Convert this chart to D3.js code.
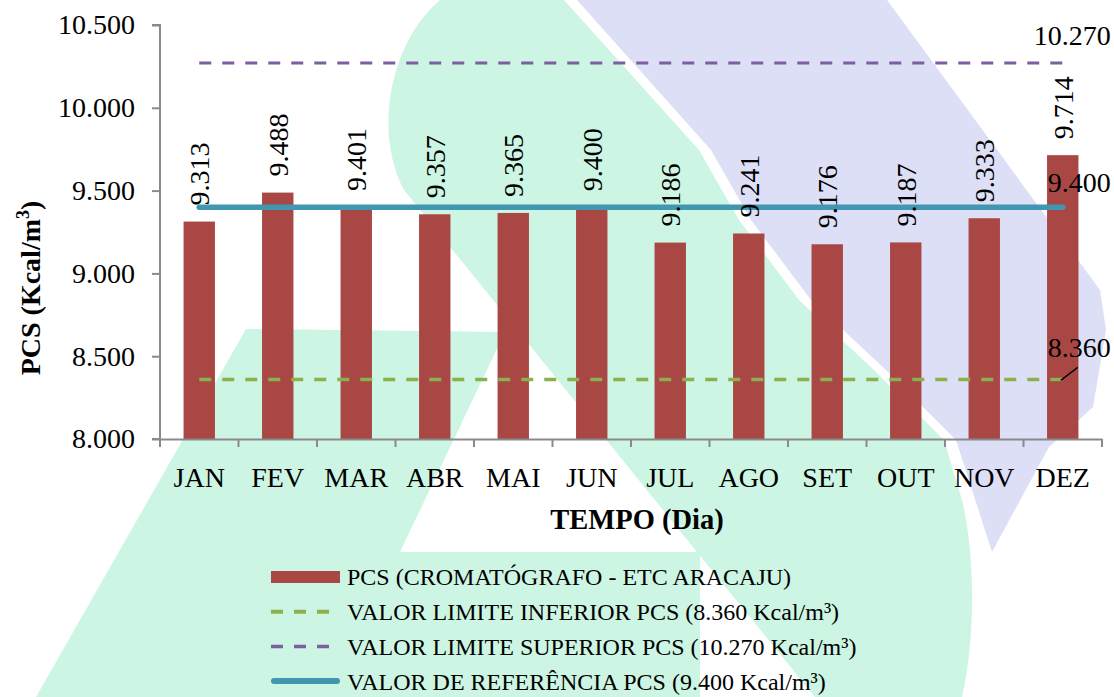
<!DOCTYPE html>
<html>
<head>
<meta charset="utf-8">
<script src="https://cdn.jsdelivr.net/npm/d3@7"></script>
<style>
body { margin: 0; background: white; }
svg { display: block; }
</style>
</head>
<body>
<script>
const width = 1114
const height = 697
const margin = {top: 25, left: 160, bottom: 258, right: 12}

// data (Kcal/m3)
const months = ["JAN", "FEV", "MAR", "ABR", "MAI", "JUN", "JUL", "AGO", "SET", "OUT", "NOV", "DEZ"]
const pcs = [9313, 9488, 9401, 9357, 9365, 9400, 9186, 9241, 9176, 9187, 9333, 9714]
const limiteInferior = [8360, 8360, 8360, 8360, 8360, 8360, 8360, 8360, 8360, 8360, 8360, 8360]
const limiteSuperior = [10270, 10270, 10270, 10270, 10270, 10270, 10270, 10270, 10270, 10270, 10270, 10270]
const referencia = [9400, 9400, 9400, 9400, 9400, 9400, 9400, 9400, 9400, 9400, 9400, 9400]
const yTicks = [8000, 8500, 9000, 9500, 10000, 10500]
const legendLabels = [
    "PCS (CROMATÓGRAFO - ETC ARACAJU)",
    "VALOR LIMITE INFERIOR PCS (8.360 Kcal/m³)",
    "VALOR LIMITE SUPERIOR PCS (10.270 Kcal/m³)",
    "VALOR DE REFERÊNCIA PCS (9.400 Kcal/m³)",
]

const colors = {bar: "#A94744", inferior: "#8DB04F", superior: "#7C5FA0", referencia: "#4196B0", axis: "#8A8A8A"}
const serif = "'Liberation Serif', 'Times New Roman', serif"

const br = d3.formatLocale({decimal: ",", thousands: ".", grouping: [3], currency: ["R$", ""]})
const fmt = br.format(",.0f")

const svg = d3.select("body").append("svg")
    .attr("width", width)
    .attr("height", height)
    .style("font-family", serif)

svg.append("rect").attr("width", width).attr("height", height).attr("fill", "white")

// watermark shapes behind the chart
const bg = svg.append("g").attr("class", "watermark")
bg.append("path")
    .attr("fill", "#CDF5E3")
    .attr("d", "M246,329 L505,332 L400,552 L700,552 L700,697 L36,697 Z")
bg.append("path")
    .attr("fill", "#CDF5E3")
    .attr("d", `M440,0 C392,40 372,130 404,190 L697,552 L815,697 L962,697
        C975,640 976,560 962,500 L944,440 L874,370 L799,300 L739,220 L699,150 L564,0 Z`)
bg.append("path")
    .attr("fill", "#DCDFF5")
    .attr("d", `M577,0 L887,0 L1100,290 L1106,330 L1093,407 L1049,447 L992,552
        L956,440 L886,370 L811,300 L751,220 L711,150 Z`)

const x = d3.scaleBand()
    .domain(months)
    .range([margin.left, width - margin.right])
    .paddingInner(0.6)
    .paddingOuter(0.3)

const y = d3.scaleLinear()
    .domain([8000, 10500])
    .range([height - margin.bottom, margin.top])

const cx = m => x(m) + x.bandwidth() / 2

// bars
svg.append("g").selectAll("rect")
    .data(months)
    .join("rect")
    .attr("x", m => x(m))
    .attr("y", (m, i) => y(pcs[i]))
    .attr("width", x.bandwidth())
    .attr("height", (m, i) => y(8000) - y(pcs[i]))
    .attr("fill", colors.bar)

// axes
const yAxis = svg.append("g")
    .attr("transform", `translate(${margin.left},0)`)
    .call(d3.axisLeft(y).tickValues(yTicks).tickFormat(fmt).tickSize(8).tickPadding(17))
const xAxis = svg.append("g")
    .attr("transform", `translate(0,${y(8000)})`)
    .call(d3.axisBottom(x).tickSize(0).tickPadding(48))
xAxis.selectAll(".tick text").attr("dy", 0)
// band boundary ticks
xAxis.selectAll("line.bound")
    .data(d3.range(months.length + 1))
    .join("line")
    .attr("class", "bound")
    .attr("x1", i => margin.left + i * x.step())
    .attr("x2", i => margin.left + i * x.step())
    .attr("y1", 0).attr("y2", 8)
    .attr("stroke", colors.axis).attr("stroke-width", 2)
for (const g of [xAxis, yAxis]) {
    g.attr("font-family", serif).attr("font-size", 28)
    g.select(".domain").attr("stroke", colors.axis).attr("stroke-width", 2)
    g.selectAll(".tick line").attr("stroke", colors.axis).attr("stroke-width", 2)
    g.selectAll(".tick text").attr("fill", "black")
}
yAxis.select(".domain").attr("d", `M-8,${y(10500)}H0V${y(8000)}H-8`)

// lines
const line = d3.line().x((d, i) => cx(months[i])).y(d => y(d))
const series = [
    {values: limiteInferior, color: colors.inferior, width: 3.5, dash: "12,11"},
    {values: limiteSuperior, color: colors.superior, width: 3, dash: "12,11"},
    {values: referencia, color: colors.referencia, width: 5.5, dash: null},
]
svg.append("g").selectAll("path")
    .data(series)
    .join("path")
    .attr("d", s => line(s.values))
    .attr("fill", "none")
    .attr("stroke", s => s.color)
    .attr("stroke-width", s => s.width)
    .attr("stroke-dasharray", s => s.dash)
    .attr("stroke-linecap", s => s.dash ? "butt" : "round")

// bar value labels
svg.append("g").selectAll("text")
    .data(months)
    .join("text")
    .attr("transform", (m, i) => `translate(${cx(m)},${y(pcs[i]) - 16}) rotate(-90)`)
    .attr("dy", "0.35em")
    .style("font-size", "28px")
    .text((m, i) => fmt(pcs[i]))

// last-point labels of the reference lines
const last = months.length - 1
const endLabels = [
    {v: limiteSuperior[last], dy: -18},
    {v: referencia[last], dy: -15},
    {v: limiteInferior[last], dy: -22},
]
svg.append("g").selectAll("text")
    .data(endLabels)
    .join("text")
    .attr("x", cx(months[last]) + 48)
    .attr("y", d => y(d.v) + d.dy)
    .attr("text-anchor", "end")
    .style("font-size", "28px")
    .text(d => fmt(d.v))
svg.append("line")
    .attr("x1", cx(months[last]) - 2).attr("y1", y(limiteInferior[last]) + 1)
    .attr("x2", cx(months[last]) + 15).attr("y2", y(limiteInferior[last]) - 12)
    .attr("stroke", "black").attr("stroke-width", 1.3)

// axis titles
svg.append("text")
    .attr("x", 637)
    .attr("y", 529)
    .attr("text-anchor", "middle")
    .style("font-size", "28.5px").style("font-weight", "bold")
    .text("TEMPO (Dia)")
const yTitle = svg.append("text")
    .attr("transform", `translate(40,${(y(8000) + y(10500)) / 2 + 56}) rotate(-90)`)
    .attr("text-anchor", "middle")
    .style("font-size", "28px").style("font-weight", "bold")
yTitle.append("tspan").text("PCS (Kcal/m")
yTitle.append("tspan").attr("dy", -11).style("font-size", "18px").text("3")
yTitle.append("tspan").attr("dy", 11).text(")")

// legend
const legend = svg.append("g").attr("transform", "translate(271,577)")
const rowH = 34.7
const items = legend.selectAll("g")
    .data(legendLabels)
    .join("g")
    .attr("transform", (d, i) => `translate(0,${i * rowH})`)
items.filter((d, i) => i === 0).append("rect")
    .attr("x", 0).attr("y", -6).attr("width", 69).attr("height", 12)
    .attr("fill", colors.bar)
items.filter((d, i) => i > 0).append("line")
    .attr("x1", (d, i) => i === 2 ? 3 : 0).attr("x2", (d, i) => i === 2 ? 66 : 60)
    .attr("stroke", (d, i) => series[i].color)
    .attr("stroke-width", (d, i) => series[i].width + 0.5)
    .attr("stroke-dasharray", (d, i) => series[i].dash)
    .attr("stroke-linecap", (d, i) => series[i].dash ? "butt" : "round")
items.append("text")
    .attr("x", 76)
    .attr("dy", "0.35em")
    .style("font-size", "24px")
    .text(d => d)
</script>
</body>
</html>
